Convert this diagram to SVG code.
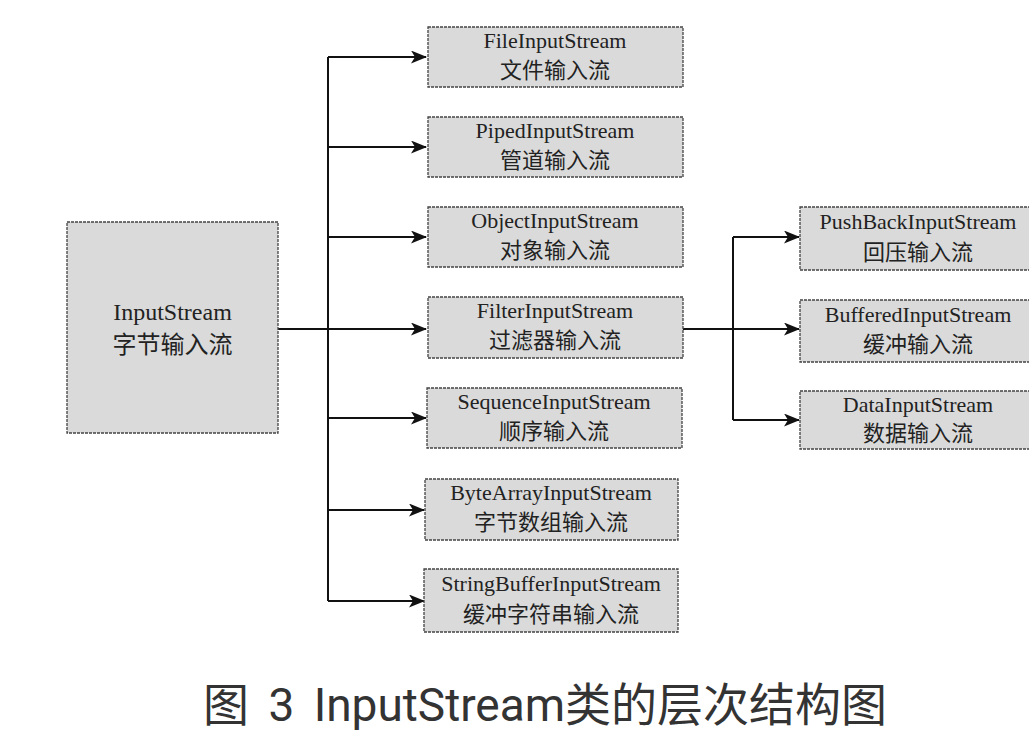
<svg xmlns="http://www.w3.org/2000/svg" width="1029" height="739" viewBox="0 0 1029 739">
<defs>
<marker id="arr" markerWidth="16" markerHeight="13" refX="15" refY="6.5" orient="auto" markerUnits="userSpaceOnUse">
<path d="M0,0 L16,6.5 L0,13 L4,6.5 Z" fill="#111"/>
</marker>
<style>
.box{fill:#dadada;stroke:#444;stroke-width:1.3;stroke-dasharray:3 1}
.en{font-family:"Liberation Serif","Times New Roman",serif;font-size:22px;fill:#222;text-anchor:middle}
.zh{font-family:"Liberation Serif","Noto Sans CJK SC",serif;font-size:22px;fill:#222;text-anchor:middle}
.big-en{font-size:24px}
.big-zh{font-size:24px}
.ln{fill:none;stroke:#111;stroke-width:2}
.cap{font-family:Roboto,"Noto Sans","Noto Sans CJK SC",sans-serif;font-size:46px;fill:#333;word-spacing:8px}
</style>
</defs>
<rect width="1029" height="739" fill="#fff"/>
<g id="connectors">
<path class="ln" d="M278,329 H426" marker-end="url(#arr)"/>
<path class="ln" d="M328,57 V601"/>
<path class="ln" d="M328,57 H426" marker-end="url(#arr)"/>
<path class="ln" d="M328,147 H426" marker-end="url(#arr)"/>
<path class="ln" d="M328,237 H426" marker-end="url(#arr)"/>
<path class="ln" d="M328,418 H426" marker-end="url(#arr)"/>
<path class="ln" d="M328,510 H424" marker-end="url(#arr)"/>
<path class="ln" d="M328,601 H424" marker-end="url(#arr)"/>
<path class="ln" d="M683,329 H799" marker-end="url(#arr)"/>
<path class="ln" d="M733,237 V420"/>
<path class="ln" d="M733,237 H799" marker-end="url(#arr)"/>
<path class="ln" d="M733,420 H799" marker-end="url(#arr)"/>
</g>
<g id="InputStream">
<rect class="box" x="67" y="222" width="211" height="211"/>
<text class="en big-en" x="172.5" y="320">InputStream</text>
<text class="zh big-zh" x="172.5" y="353">字节输入流</text>
</g>
<g id="FileInputStream">
<rect class="box" x="428" y="27" width="255" height="60"/>
<text class="en" x="555" y="48">FileInputStream</text>
<text class="zh" x="555" y="78">文件输入流</text>
</g>
<g id="PipedInputStream">
<rect class="box" x="428" y="117" width="255" height="60"/>
<text class="en" x="555" y="138">PipedInputStream</text>
<text class="zh" x="555" y="168">管道输入流</text>
</g>
<g id="ObjectInputStream">
<rect class="box" x="428" y="207" width="255" height="60"/>
<text class="en" x="555" y="228">ObjectInputStream</text>
<text class="zh" x="555" y="258">对象输入流</text>
</g>
<g id="FilterInputStream">
<rect class="box" x="428" y="297" width="255" height="61"/>
<text class="en" x="555" y="318">FilterInputStream</text>
<text class="zh" x="555" y="348">过滤器输入流</text>
</g>
<g id="SequenceInputStream">
<rect class="box" x="427" y="388" width="255" height="60"/>
<text class="en" x="554" y="409">SequenceInputStream</text>
<text class="zh" x="554" y="439">顺序输入流</text>
</g>
<g id="ByteArrayInputStream">
<rect class="box" x="425" y="479" width="253" height="61"/>
<text class="en" x="551" y="500">ByteArrayInputStream</text>
<text class="zh" x="551" y="530">字节数组输入流</text>
</g>
<g id="StringBufferInputStream">
<rect class="box" x="424" y="569" width="254" height="63"/>
<text class="en" x="551" y="591">StringBufferInputStream</text>
<text class="zh" x="551" y="622">缓冲字符串输入流</text>
</g>
<g id="PushBackInputStream">
<rect class="box" x="800" y="207" width="240" height="63"/>
<text class="en" x="918" y="229">PushBackInputStream</text>
<text class="zh" x="918" y="260">回压输入流</text>
</g>
<g id="BufferedInputStream">
<rect class="box" x="800" y="300" width="240" height="62"/>
<text class="en" x="918" y="322">BufferedInputStream</text>
<text class="zh" x="918" y="352">缓冲输入流</text>
</g>
<g id="DataInputStream">
<rect class="box" x="800" y="391" width="240" height="58"/>
<text class="en" x="918" y="412">DataInputStream</text>
<text class="zh" x="918" y="441">数据输入流</text>
</g>
<text class="cap" x="203" y="721">图 3 InputStream类的层次结构图</text>
</svg>
